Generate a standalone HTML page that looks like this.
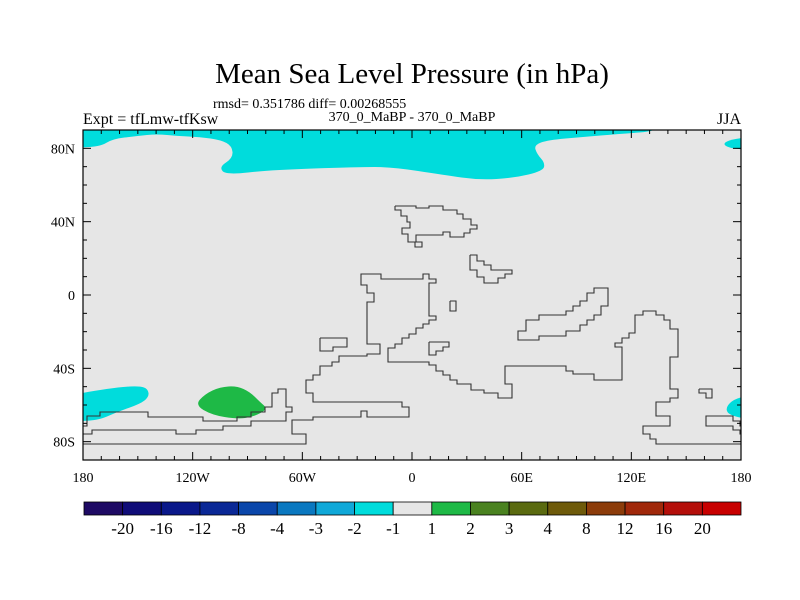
<!DOCTYPE html>
<html><head><meta charset="utf-8"><style>
html,body{margin:0;padding:0;background:#fff;}
svg{display:block;font-family:"Liberation Serif",serif;}
</style></head><body>
<svg id="chart" width="800" height="600" viewBox="0 0 800 600">
<rect x="0" y="0" width="800" height="600" fill="#fff"/>
<text x="412" y="83" text-anchor="middle" font-size="29">Mean Sea Level Pressure (in hPa)</text>
<text x="213" y="108" font-size="14">rmsd= 0.351786 diff= 0.00268555</text>
<text x="412" y="121" text-anchor="middle" font-size="14">370_0_MaBP - 370_0_MaBP</text>
<text x="83" y="124" font-size="16">Expt = tfLmw-tfKsw</text>
<text x="741" y="124" text-anchor="end" font-size="16">JJA</text>
<g id="map"></g>
<g id="axes"></g>
<g id="cbar"></g>
</svg>
<script>
// ---- chart data ----
const levelLabels = ["-20","-16","-12","-8","-4","-3","-2","-1","1","2","3","4","8","12","16","20"];
const levelColors = ["#1e0a64","#100c78","#0a188a","#0a2896","#0a46aa","#0a78c0","#10a8d8","#00dcdc","#e6e6e6","#1eb946","#4a8220","#5a6a10","#6e5a0a","#8c3c0a","#a0280a","#b40f0a","#c80000"];
const lonTicks = [-180,-120,-60,0,60,120,180];
const lonTickLabels = ["180","120W","60W","0","60E","120E","180"];
const latTicks = [80,40,0,-40,-80];
const latTickLabels = ["80N","40N","0","40S","80S"];

// ---- axis functions ----
const X0=83,X1=741,Y0=130,Y1=460;
const xScale = lon => X0 + (lon+180)/360*(X1-X0);
const yScale = lat => Y0 + (90-lat)/180*(Y1-Y0);
const NS="http://www.w3.org/2000/svg";
function mk(tag,attrs,parent){const e=document.createElementNS(NS,tag);for(const k in attrs)e.setAttribute(k,attrs[k]);parent.appendChild(e);return e;}

// ---- basemap geometry (static outlines in plot pixels) ----
const topBand=[[60,118],[660,118],[660,131],[618,134],[583,137],[548,140],[534,145],[537,154],[545,163],[543,171],[514,178],[479,180],[444,175],[392,167],[357,167],[270,170],[226,175],[219,167],[233,158],[232,146],[221,140],[200,137],[177,136],[157,134],[137,136],[112,139],[100,147],[60,148]];
const rightTopBlob=[[760,136],[732,139],[722,144],[732,149],[760,150]];
const leftBlob=[[60,397],[93,391],[120,387],[140,386],[148,389],[149,397],[140,404],[117,412],[97,421],[60,421]];
const rightBlob=[[760,394],[735,398],[725,408],[730,416],[760,421]];
const greenBlob=[[195,405],[205,394],[220,387],[237,386],[250,392],[260,402],[268,409],[253,417],[237,419],[212,415]];

const coasts=[
 [[395,206],[416,206],[416,208],[429,208],[429,206],[443,206],[443,210],[457,210],[457,214],[463,214],[463,219],[471,219],[471,225],[477,225],[477,229],[470,229],[470,233],[464,233],[464,237],[450,237],[450,232],[443,232],[443,235],[416,235],[416,242],[422,242],[422,247],[415,247],[415,242],[408,242],[408,234],[402,234],[402,228],[410,228],[410,222],[407,222],[407,216],[401,216],[401,210],[395,210],[395,206]],
 [[470,255],[477,255],[477,261],[484,261],[484,265],[491,265],[491,270],[512,270],[512,274],[505,274],[505,278],[498,278],[498,283],[484,283],[484,277],[477,277],[477,270],[470,270],[470,255]],
 [[450,301],[456,301],[456,311],[450,311],[450,301]],
 [[320,338],[347,338],[347,347],[333,347],[333,351],[320,351],[320,338]],
 [[429,342],[449,342],[449,347],[443,347],[443,351],[436,351],[436,355],[429,355],[429,342]],
 [[518,336],[518,340],[539,340],[539,336],[566,336],[566,331],[580,331],[580,325],[587,325],[587,320],[594,320],[594,315],[601,315],[601,306],[608,306],[608,288],[594,288],[594,293],[587,293],[587,301],[580,301],[580,306],[573,306],[573,311],[566,311],[566,315],[539,315],[539,320],[526,320],[526,331],[518,331],[518,336]],
 [[83,444],[306,444],[306,434],[292,434],[292,420],[313,420],[313,417],[361,417],[361,411],[367,411],[367,417],[409,417],[409,407],[402,407],[402,402],[313,402],[313,393],[306,393],[306,380],[313,380],[313,375],[320,375],[320,366],[332,366],[332,362],[339,362],[339,356],[367,356],[367,354],[380,354],[380,344],[367,344],[367,302],[374,302],[374,293],[367,293],[367,285],[361,285],[361,279],[361,274],[381,274],[381,279],[423,279],[423,274],[429,274],[429,279],[436,279],[436,283],[429,283],[429,316],[436,316],[436,320],[429,320],[429,324],[423,324],[423,328],[416,328],[416,334],[409,334],[409,338],[402,338],[402,344],[395,344],[395,348],[388,348],[388,362],[429,362],[429,365],[436,365],[436,371],[443,371],[443,375],[450,375],[450,380],[457,380],[457,384],[471,384],[471,390],[484,390],[484,393],[498,393],[498,398],[512,398],[512,384],[505,384],[505,366],[566,366],[566,371],[573,371],[573,374],[594,374],[594,380],[622,380],[622,347],[615,347],[615,343],[622,343],[622,338],[629,338],[629,333],[635,333],[635,315],[643,315],[643,311],[656,311],[656,315],[664,315],[664,320],[670,320],[670,329],[678,329],[678,357],[670,357],[670,389],[678,389],[678,398],[670,398],[670,402],[656,402],[656,416],[670,416],[670,426],[643,426],[643,434],[650,434],[650,439],[656,439],[656,444],[741,444]],
 [[741,426],[740,426],[740,421],[733,421],[733,416],[706,416],[706,426],[733,426],[733,430],[740,430],[740,434],[741,434]],
 [[699,389],[712,389],[712,398],[706,398],[706,393],[699,393],[699,389]],
 [[83,434],[92,434],[92,430],[176,430],[176,434],[196,434],[196,430],[223,430],[223,426],[251,426],[251,421],[286,421],[286,417],[286,412],[292,412],[292,407],[286,407],[286,389],[278,389],[278,393],[272,393],[272,407],[265,407],[265,412],[251,412],[251,417],[237,417],[237,421],[203,421],[203,417],[148,417],[148,412],[100,412],[100,416],[87,416],[87,426],[83,426]]
];

const map=document.getElementById('map');
const clip=mk('clipPath',{id:'pc'},mk('defs',{},map));
mk('rect',{x:X0,y:Y0,width:X1-X0,height:Y1-Y0},clip);
const plotBg=mk('rect',{x:X0,y:Y0,width:X1-X0,height:Y1-Y0,fill:levelColors[8]},map);


const fills=mk('g',{'clip-path':'url(#pc)'},map);
function smoothPath(pts){
 const n=pts.length, mid=(a,b)=>[(a[0]+b[0])/2,(a[1]+b[1])/2];
 let m=mid(pts[n-1],pts[0]);
 let d='M'+m.join(',');
 for(let i=0;i<n;i++){const nm=mid(pts[i],pts[(i+1)%n]);d+='Q'+pts[i].join(',')+' '+nm.join(',');}
 return d+'Z';
}
function poly(pts,color,name){
 const p=mk('path',{d:smoothPath(pts),fill:color},fills);
 
 
}
poly(topBand,levelColors[7],'arctic-negative-anomaly');
poly(rightTopBlob,levelColors[7],'arctic-east-negative-anomaly');
poly(leftBlob,levelColors[7],'southern-west-negative-anomaly');
poly(rightBlob,levelColors[7],'southern-east-negative-anomaly');
poly(greenBlob,levelColors[9],'southern-positive-anomaly');
coasts.forEach((c,i)=>{
 const l=mk('polyline',{points:c.map(q=>q.join(',')).join(' '),fill:'none',stroke:'#333',"stroke-width":1.1},fills);
 
 
});

// ---- axes ----
const ax=document.getElementById('axes');
const frame=mk('rect',{x:X0,y:Y0,width:X1-X0,height:Y1-Y0,fill:'none',stroke:'#000',"stroke-width":1.2},ax);


for(let lon=-180;lon<=180;lon+=10){
 const x=xScale(lon), L=(lon%60===0)?8:4;
 mk('line',{x1:x,y1:Y1,x2:x,y2:Y1-L,stroke:'#000'},ax);
 mk('line',{x1:x,y1:Y0,x2:x,y2:Y0+L,stroke:'#000'},ax);
}
for(let lat=-90;lat<=90;lat+=10){
 const y=yScale(lat), L=(lat%40===0)?8:4;
 mk('line',{x1:X0,y1:y,x2:X0+L,y2:y,stroke:'#000'},ax);
 mk('line',{x1:X1,y1:y,x2:X1-L,y2:y,stroke:'#000'},ax);
}
lonTicks.forEach((v,i)=>{
 const t=mk('text',{x:xScale(v),y:482,"text-anchor":"middle","font-size":14},ax);
 t.textContent=lonTickLabels[i];
 
 
});
latTicks.forEach((v,i)=>{
 const t=mk('text',{x:75,y:yScale(v)+5,"text-anchor":"end","font-size":14},ax);
 t.textContent=latTickLabels[i];
 
 
});

// ---- colorbar ----
const cb=document.getElementById('cbar');
const CX0=84,CX1=741,CY=502,CH=13,n=levelColors.length,w=(CX1-CX0)/n;
levelColors.forEach((c,i)=>{
 const r=mk('rect',{x:CX0+i*w,y:CY,width:w,height:CH,fill:c,stroke:'#000',"stroke-width":0.8},cb);
 
 
});
levelLabels.forEach((s,i)=>{
 const t=mk('text',{x:CX0+(i+1)*w,y:534,"text-anchor":"middle","font-size":17},cb);
 t.textContent=s;
 
 
});
</script>
</body></html>
